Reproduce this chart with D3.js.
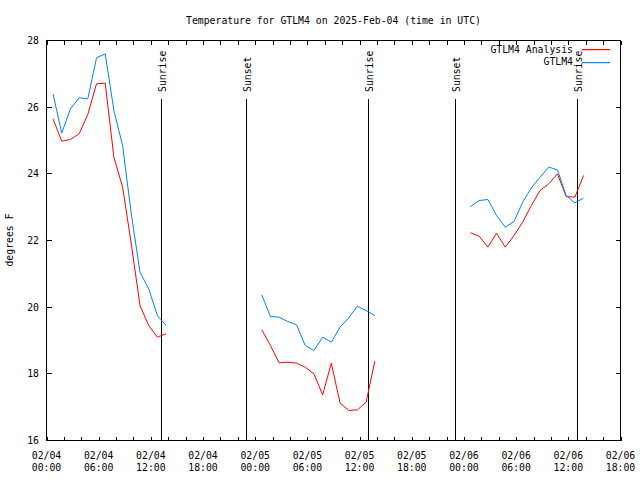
<!DOCTYPE html>
<html>
<head>
<meta charset="utf-8">
<script src="https://cdn.jsdelivr.net/npm/d3@7"></script>
<style>
body { margin: 0; background: #fff; }
svg { display: block; }
text { font-family: "DejaVu Sans Mono", monospace; font-size: 9.8px; fill: #000; }
</style>
</head>
<body>
<script>
// ---- data ----
const title = "Temperature for GTLM4 on 2025-Feb-04 (time in UTC)";
const yLabel = "degrees F";
const seriesNames = ["GTLM4 Analysis", "GTLM4"];
const seriesColors = ["#ff0000", "#0080ff"];

const times1 = ["2025-02-04T00:45Z","2025-02-04T01:45Z","2025-02-04T02:45Z","2025-02-04T03:45Z","2025-02-04T04:45Z","2025-02-04T05:45Z","2025-02-04T06:45Z","2025-02-04T07:45Z","2025-02-04T08:45Z","2025-02-04T09:45Z","2025-02-04T10:45Z","2025-02-04T11:45Z","2025-02-04T12:45Z","2025-02-04T13:45Z"];
const times2 = ["2025-02-05T00:45Z","2025-02-05T01:45Z","2025-02-05T02:45Z","2025-02-05T03:45Z","2025-02-05T04:45Z","2025-02-05T05:45Z","2025-02-05T06:45Z","2025-02-05T07:45Z","2025-02-05T08:45Z","2025-02-05T09:45Z","2025-02-05T10:45Z","2025-02-05T11:45Z","2025-02-05T12:45Z","2025-02-05T13:45Z"];
const times3 = ["2025-02-06T00:45Z","2025-02-06T01:45Z","2025-02-06T02:45Z","2025-02-06T03:45Z","2025-02-06T04:45Z","2025-02-06T05:45Z","2025-02-06T06:45Z","2025-02-06T07:45Z","2025-02-06T08:45Z","2025-02-06T09:45Z","2025-02-06T10:45Z","2025-02-06T11:45Z","2025-02-06T12:45Z","2025-02-06T13:45Z"];

const analysis1 = [25.65, 24.98, 25.03, 25.20, 25.78, 26.70, 26.72, 24.50, 23.60, 21.90, 20.05, 19.45, 19.10, 19.20];
const analysis2 = [19.32, 18.85, 18.33, 18.35, 18.32, 18.20, 18.00, 17.37, 18.32, 17.13, 16.90, 16.92, 17.15, 18.38];
const analysis3 = [22.23, 22.13, 21.80, 22.22, 21.80, 22.15, 22.55, 23.05, 23.50, 23.70, 24.00, 23.32, 23.30, 23.95];

const obs1 = [26.40, 25.22, 25.95, 26.28, 26.25, 27.48, 27.60, 25.90, 24.85, 22.80, 21.05, 20.55, 19.75, 19.45];
const obs2 = [20.37, 19.72, 19.70, 19.57, 19.47, 18.85, 18.70, 19.10, 18.95, 19.40, 19.68, 20.03, 19.90, 19.75];
const obs3 = [23.02, 23.20, 23.23, 22.75, 22.40, 22.57, 23.15, 23.58, 23.90, 24.20, 24.12, 23.35, 23.13, 23.27];

const eventTimes = ["2025-02-04T13:08Z","2025-02-04T22:53Z","2025-02-05T13:00Z","2025-02-05T22:55Z","2025-02-06T13:00Z"];
const eventLabels = ["Sunrise","Sunset","Sunrise","Sunset","Sunrise"];

const xDomain = ["2025-02-04T00:00Z", "2025-02-06T18:00Z"];
const yTicks = [16, 18, 20, 22, 24, 26, 28];

// ---- layout ----
const W = 640, H = 480;
const L = 46.5, R = 620.5, T = 40.5, B = 440.5;

const svg = d3.select("body").append("svg").attr("width", W).attr("height", H);
svg.append("rect").attr("width", W).attr("height", H).attr("fill", "#fff");

const x = d3.scaleUtc().domain(xDomain.map(d => new Date(d))).range([L, R]);
const y = d3.scaleLinear().domain([16, 28]).range([B, T]);

// frame
svg.append("rect").attr("x", L).attr("y", T).attr("width", R - L).attr("height", B - T)
  .attr("fill", "none").attr("stroke", "#000").attr("stroke-width", 1).attr("shape-rendering", "crispEdges");

// x ticks (every 2 h), inward on bottom and top
const xt = x.ticks(d3.utcHour.every(2));
const tickG = svg.append("g").attr("stroke", "#000").attr("shape-rendering", "crispEdges");
xt.forEach(t => {
  const px = Math.round(x(t)) + 0.5;
  tickG.append("line").attr("x1", px).attr("x2", px).attr("y1", B).attr("y2", B - 4);
  tickG.append("line").attr("x1", px).attr("x2", px).attr("y1", T).attr("y2", T + 4);
});
// x labels every 6 h
const xl = x.ticks(d3.utcHour.every(6));
const fmtD = d3.utcFormat("%m/%d"), fmtH = d3.utcFormat("%H:%M");
xl.forEach(t => {
  const px = x(t);
  svg.append("text").attr("x", px).attr("y", 459).attr("text-anchor", "middle").text(fmtD(t));
  svg.append("text").attr("x", px).attr("y", 471).attr("text-anchor", "middle").text(fmtH(t));
});

// y ticks
yTicks.forEach(v => {
  const py = Math.round(y(v) - 0.5) + 0.5;
  tickG.append("line").attr("x1", L).attr("x2", L + 5).attr("y1", py).attr("y2", py);
  tickG.append("line").attr("x1", R).attr("x2", R - 5).attr("y1", py).attr("y2", py);
  svg.append("text").attr("x", 39).attr("y", y(v)).attr("dy", "0.35em").attr("text-anchor", "end").text(v);
});

// title & y label
svg.append("text").attr("x", (L + R) / 2).attr("y", 23.5).attr("text-anchor", "middle").text(title);
svg.append("text").attr("transform", "translate(13,240) rotate(-90)").attr("text-anchor", "middle").text(yLabel);

// sunrise / sunset
eventTimes.forEach((t, i) => {
  const px = Math.round(x(new Date(t))) + 0.5;
  svg.append("line").attr("x1", px).attr("x2", px).attr("y1", 99).attr("y2", B)
    .attr("stroke", "#000").attr("shape-rendering", "crispEdges");
  svg.append("text").attr("transform", `translate(${px + 4},92) rotate(-90)`)
    .attr("text-anchor", "start").text(eventLabels[i]);
});

// series
const line = d3.line().x(d => x(d.t)).y(d => y(d.v));
function seg(times, vals) { return times.map((t, i) => ({ t: new Date(t), v: vals[i] })); }
const analysisSegs = [seg(times1, analysis1), seg(times2, analysis2), seg(times3, analysis3)];
const obsSegs = [seg(times1, obs1), seg(times2, obs2), seg(times3, obs3)];
[analysisSegs, obsSegs].forEach((segs, k) => {
  segs.forEach(s => {
    svg.append("path").datum(s).attr("d", line).attr("fill", "none")
      .attr("stroke", seriesColors[k]).attr("stroke-width", 1);
  });
});

// legend
const legend = svg.append("g");
seriesNames.forEach((n, i) => {
  const ly = 49.5 + i * 12.5;
  legend.append("text").attr("x", 573).attr("y", ly).attr("dy", "0.35em").attr("text-anchor", "end").text(n);
  legend.append("rect").attr("x", 582).attr("y", Math.floor(ly)).attr("width", 28).attr("height", 1.2)
    .attr("fill", seriesColors[i]);
});
</script>
</body>
</html>
